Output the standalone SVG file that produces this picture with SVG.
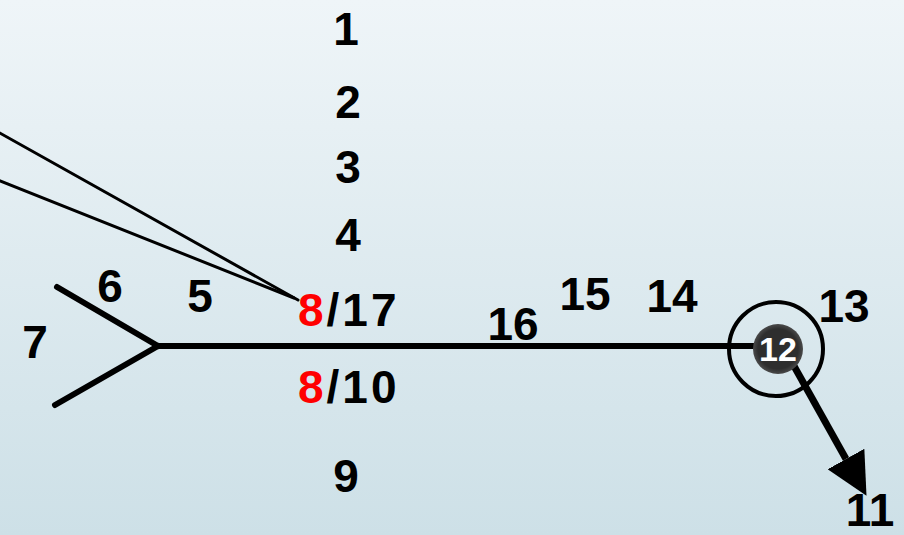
<svg xmlns="http://www.w3.org/2000/svg" width="904" height="535" viewBox="0 0 904 535">
<defs>
<linearGradient id="bg" x1="0" y1="0" x2="0" y2="1">
<stop offset="0" stop-color="#eff5f8"/>
<stop offset="1" stop-color="#cde0e7"/>
</linearGradient>
<radialGradient id="dot" cx="0.5" cy="0.5" r="0.5">
<stop offset="0.8" stop-color="#2e2e2e"/>
<stop offset="1" stop-color="#4a4a4a"/>
</radialGradient>
<marker id="ah" markerUnits="userSpaceOnUse" markerWidth="42" markerHeight="42" viewBox="0 0 40 40" refX="0" refY="20" orient="auto">
<path d="M0,0 L40,20 L0,40 Z" fill="#000"/>
</marker>
<style>
.t{font-family:"Liberation Sans","DejaVu Sans",sans-serif;font-weight:bold;font-size:46px;fill:#000;text-anchor:middle}
.s{text-anchor:start;letter-spacing:3px}
.r{fill:#ff0000}
.w{fill:#fff;font-size:34px}
.thin{stroke:#000;stroke-width:3;fill:none;stroke-linecap:round}
.thick{stroke:#000;stroke-width:6;fill:none;stroke-linecap:round}
</style>
</defs>
<rect width="904" height="535" fill="url(#bg)"/>
<g id="connectors">
<line class="thin" x1="-2" y1="132" x2="298" y2="300"/>
<line class="thin" x1="-2" y1="180" x2="294" y2="298"/>
<line class="thick" x1="158" y1="346" x2="57" y2="287"/>
<line class="thick" x1="158" y1="346" x2="55" y2="405"/>
<line x1="158" y1="346" x2="765" y2="346" stroke="#000" stroke-width="6"/>
<line x1="794" y1="366" x2="846" y2="459" stroke="#000" stroke-width="7" marker-end="url(#ah)"/>
</g>
<g id="n1"><text class="t" x="346" y="45">1</text></g>
<g id="n2"><text class="t" x="348" y="118">2</text></g>
<g id="n3"><text class="t" x="348" y="183">3</text></g>
<g id="n4"><text class="t" x="348" y="251">4</text></g>
<g id="n5"><text class="t" x="200" y="312">5</text></g>
<g id="n6"><text class="t" x="110" y="302">6</text></g>
<g id="n7"><text class="t" x="35" y="358">7</text></g>
<g id="n8-17"><text class="t s" x="298" y="326"><tspan class="r">8</tspan>/17</text></g>
<g id="n8-10"><text class="t s" x="298" y="403"><tspan class="r">8</tspan>/10</text></g>
<g id="n9"><text class="t" x="346" y="492">9</text></g>
<g id="n16"><text class="t" x="513" y="340">16</text></g>
<g id="n15"><text class="t" x="585" y="310">15</text></g>
<g id="n14"><text class="t" x="672" y="312">14</text></g>
<g id="n13"><text class="t" x="844" y="322">13</text></g>
<g id="n11"><text class="t" x="870" y="526">11</text></g>
<g id="n12">
<circle cx="776" cy="349" r="47" fill="none" stroke="#000" stroke-width="4"/>
<circle cx="778" cy="349" r="25" fill="url(#dot)"/>
<text class="t w" x="778" y="361">12</text>
</g>
</svg>
